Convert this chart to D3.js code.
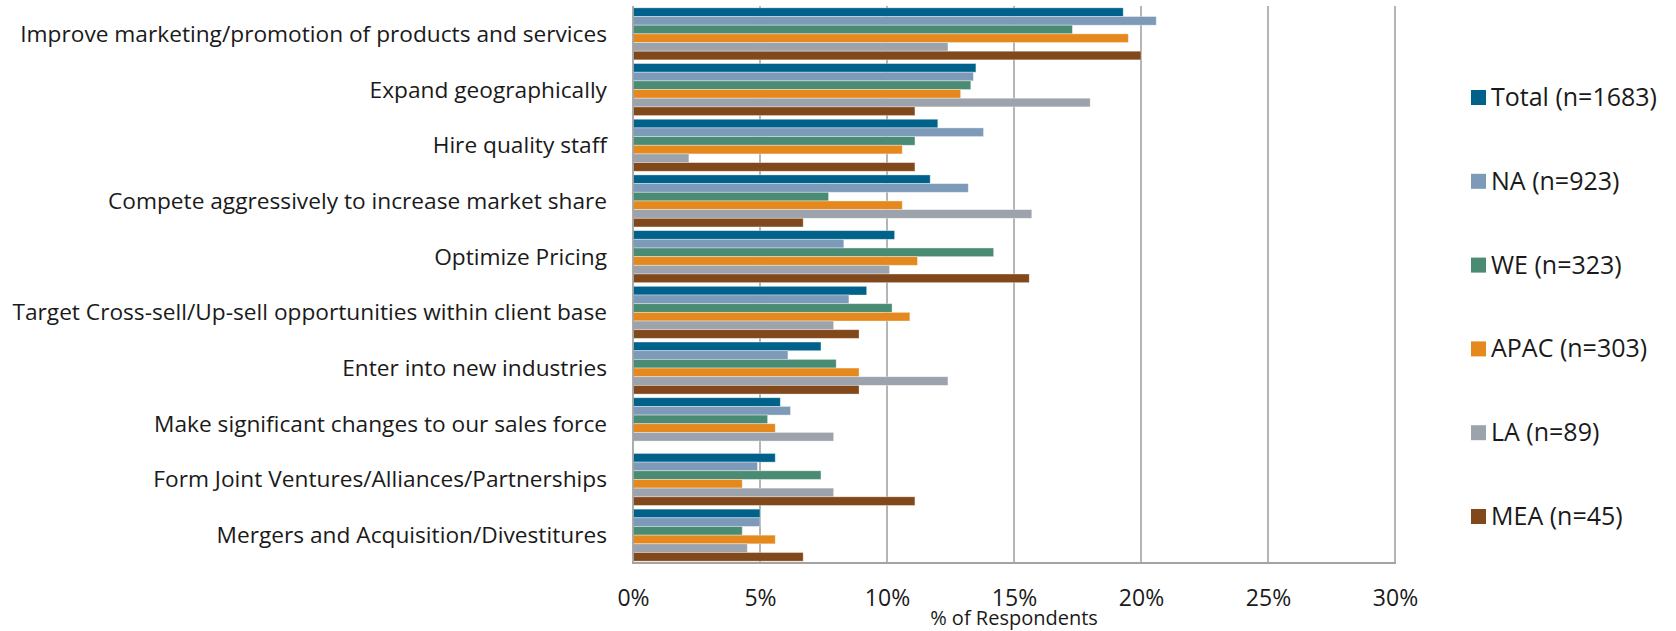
<!DOCTYPE html>
<html>
<head>
<meta charset="utf-8">
<script src="https://cdn.jsdelivr.net/npm/d3@7"></script>
<style>
  html, body { margin: 0; padding: 0; background: #fff; }
  svg { display: block; }
  text { font-family: "Open Sans", "Noto Sans", sans-serif; fill: #1a1a1a; }
</style>
</head>
<body>
<svg id="chart" width="1676" height="631"></svg>
<script>
const categories = [
  "Improve marketing/promotion of products and services",
  "Expand geographically",
  "Hire quality staff",
  "Compete aggressively to increase market share",
  "Optimize Pricing",
  "Target Cross-sell/Up-sell opportunities within client base",
  "Enter into new industries",
  "Make significant changes to our sales force",
  "Form Joint Ventures/Alliances/Partnerships",
  "Mergers and Acquisition/Divestitures"
];
const seriesNames = ["Total (n=1683)", "NA (n=923)", "WE (n=323)", "APAC (n=303)", "LA (n=89)", "MEA (n=45)"];
const seriesColors = ["#00618a", "#7d9ab9", "#4a8b73", "#e5891f", "#9ca3ac", "#80481b"];

const totalValues = [19.3, 13.5, 12.0, 11.7, 10.3, 9.2, 7.4, 5.8, 5.6, 5.0];
const naValues    = [20.6, 13.4, 13.8, 13.2, 8.3, 8.5, 6.1, 6.2, 4.9, 5.0];
const weValues    = [17.3, 13.3, 11.1, 7.7, 14.2, 10.2, 8.0, 5.3, 7.4, 4.3];
const apacValues  = [19.5, 12.9, 10.6, 10.6, 11.2, 10.9, 8.9, 5.6, 4.3, 5.6];
const laValues    = [12.4, 18.0, 2.2, 15.7, 10.1, 7.9, 12.4, 7.9, 7.9, 4.5];
const meaValues   = [20.0, 11.1, 11.1, 6.7, 15.6, 8.9, 8.9, 0, 11.1, 6.7];
const seriesValues = [totalValues, naValues, weValues, apacValues, laValues, meaValues];

const xTicks = [0, 5, 10, 15, 20, 25, 30];
const xTitle = "% of Respondents";

const svg = d3.select("#chart");
const plotLeft = 633, plotRight = 1395, plotTop = 6, plotBottom = 563;

const x = d3.scaleLinear().domain([0, 30]).range([plotLeft, plotRight]);
const y = d3.scaleBand().domain(categories).range([plotTop, plotBottom]).paddingInner(0.066).paddingOuter(0.033);
const ySub = d3.scaleBand().domain(seriesNames).range([0, y.bandwidth()]);

// gridlines
svg.append("g")
  .selectAll("line")
  .data(xTicks.filter(d => d > 0))
  .join("line")
  .attr("x1", d => x(d)).attr("x2", d => x(d))
  .attr("y1", plotTop).attr("y2", plotBottom)
  .attr("stroke", "#a3a3a3").attr("stroke-width", 1.6);

// bars
const groups = svg.append("g")
  .selectAll("g")
  .data(categories)
  .join("g")
  .attr("transform", d => `translate(0,${y(d)})`);

groups.selectAll("rect")
  .data((c, ci) => seriesNames.map((s, si) => ({ s, si, v: seriesValues[si][ci] })))
  .join("rect")
  .attr("x", x(0))
  .attr("y", d => ySub(d.s))
  .attr("width", d => Math.max(0, x(d.v) - x(0)))
  .attr("height", ySub.bandwidth())
  .attr("fill", d => seriesColors[d.si])
  .attr("stroke", d => d.v > 0 ? "rgba(255,255,255,0.45)" : "none")
  .attr("stroke-width", 0.8);

// axes lines
svg.append("line")
  .attr("x1", plotLeft).attr("x2", plotLeft).attr("y1", plotTop).attr("y2", plotBottom)
  .attr("stroke", "#a3a3a3").attr("stroke-width", 1.8);
svg.append("line")
  .attr("x1", plotLeft - 1).attr("x2", plotRight + 1).attr("y1", plotBottom).attr("y2", plotBottom)
  .attr("stroke", "#a3a3a3").attr("stroke-width", 1.8);

// x tick labels
const xAxis = d3.axisBottom(x).tickValues(xTicks).tickFormat(d => d + "%").tickSize(0).tickPadding(0);
const gx = svg.append("g").attr("transform", `translate(0,${plotBottom})`).call(xAxis);
gx.select(".domain").remove();
gx.selectAll("text")
  .attr("y", 43).attr("dy", null)
  .style("font-family", "\"Open Sans\", sans-serif")
  .style("font-size", "23px").style("fill", "#1a1a1a");

// x title
svg.append("text")
  .attr("x", x(15)).attr("y", 625)
  .attr("text-anchor", "middle")
  .style("font-size", "20px")
  .text(xTitle);

// category labels
const yAxis = d3.axisLeft(y).tickSize(0).tickPadding(0);
const gy = svg.append("g").attr("transform", `translate(607,0)`).call(yAxis);
gy.select(".domain").remove();
gy.selectAll("text")
  .attr("x", 0).attr("dy", "0.35em")
  .style("font-family", "\"Open Sans\", sans-serif")
  .style("font-size", "22.7px").style("fill", "#1a1a1a");

// legend
const legendY = d3.scalePoint().domain(seriesNames).range([97, 516]);
const lg = svg.append("g")
  .selectAll("g")
  .data(seriesNames)
  .join("g")
  .attr("transform", d => `translate(1471,${legendY(d)})`);
lg.append("rect")
  .attr("x", 0).attr("y", -7).attr("width", 15).attr("height", 15)
  .attr("fill", (d, i) => seriesColors[i]);
lg.append("text")
  .attr("x", 20).attr("y", 0).attr("dy", "0.36em")
  .style("font-size", "25px")
  .text(d => d);
</script>
</body>
</html>
